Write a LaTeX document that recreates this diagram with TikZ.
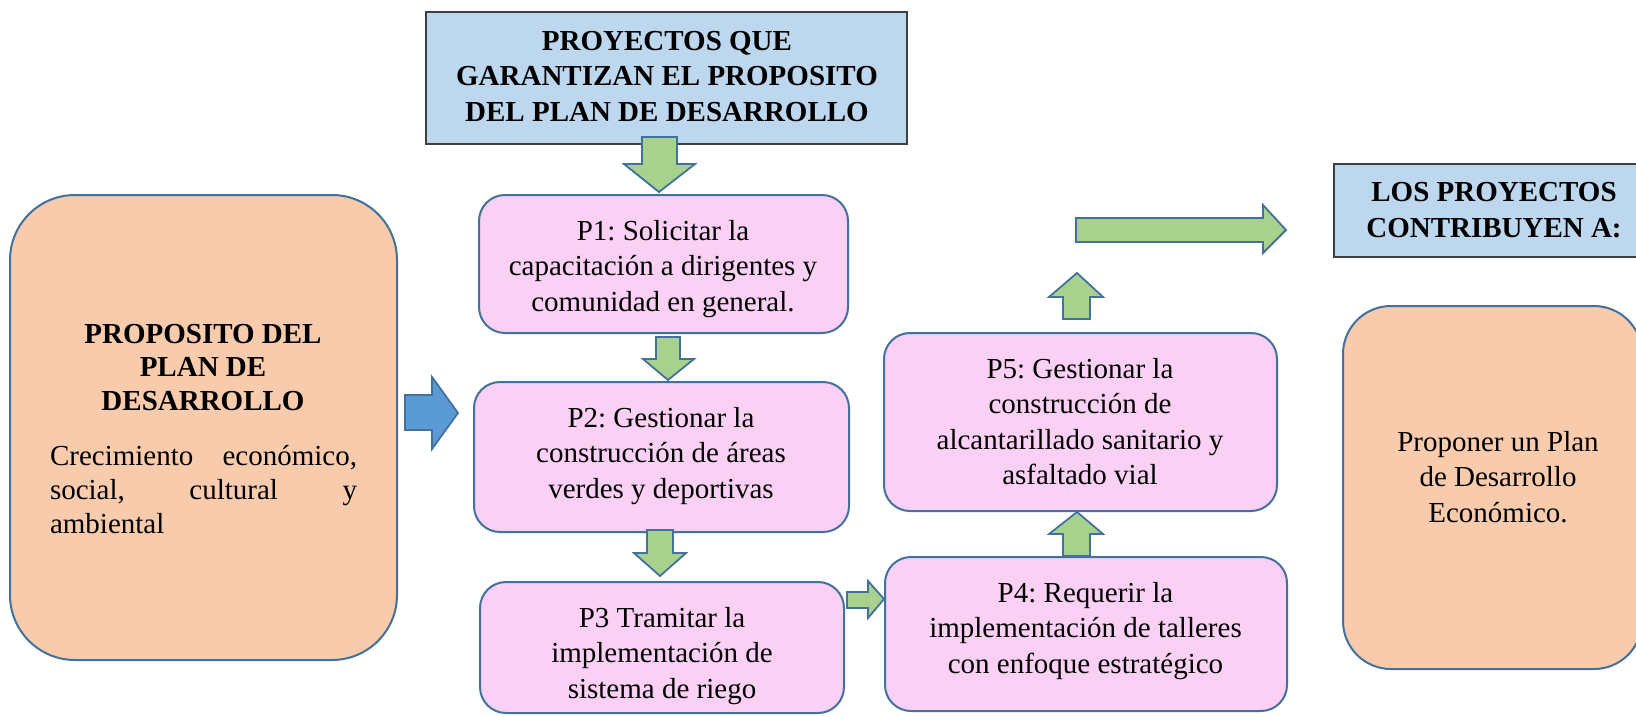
\documentclass[tikz,border=0pt]{standalone}
\usepackage{fontspec}
\setmainfont{Liberation Serif}
\frenchspacing
\definecolor{pinkfill}{HTML}{FAD0F4}
\definecolor{orangefill}{HTML}{F8CBAD}
\definecolor{bluefill}{HTML}{BDD7EE}
\definecolor{greenfill}{HTML}{A9D18E}
\definecolor{bluearrow}{HTML}{5B9BD5}
\definecolor{outl}{HTML}{41719C}
\definecolor{darkline}{HTML}{3F3F3F}
\begin{document}
\begin{tikzpicture}[x=1pt,y=-1pt,
  boxbase/.style={draw=outl, line width=2pt, inner sep=0pt, rectangle},
  pbox/.style={boxbase, fill=pinkfill, rounded corners=26pt},
  obox/.style={boxbase, fill=orangefill},
  hbox/.style={draw=darkline, line width=1.5pt, fill=bluefill, inner sep=0pt, rectangle},
  txt/.style={font=\fontsize{29}{35.5}\selectfont\frenchspacing, align=center, inner sep=0pt},
  btxt/.style={txt, font=\fontsize{29}{35.5}\selectfont\bfseries},
  garrow/.style={draw=outl, line width=1.8pt, fill=greenfill, line join=miter},
  barrow/.style={draw=outl, line width=1.8pt, fill=bluearrow, line join=miter}]
\clip (0,0) rectangle (1636,716);
\fill[white] (0,0) rectangle (1636,716);

% boxes
\node[hbox, minimum width=481pt, minimum height=132pt] (top) at (666.5,78) {};
\node[obox, rounded corners=65pt, minimum width=387pt, minimum height=465pt] (left) at (203.5,427.5) {};
\node[pbox, minimum width=369pt, minimum height=138pt] (p1) at (663.5,264) {};
\node[pbox, minimum width=375pt, minimum height=150pt] (p2) at (661.5,457) {};
\node[pbox, minimum width=364pt, minimum height=131pt] (p3) at (662,647.5) {};
\node[pbox, minimum width=402pt, minimum height=154pt] (p4) at (1086,634) {};
\node[pbox, minimum width=393pt, minimum height=178pt] (p5) at (1080.5,422) {};
\node[hbox, minimum width=308pt, minimum height=93pt] (tr) at (1488,210.5) {};
\node[obox, rounded corners=48pt, minimum width=299pt, minimum height=363pt] (ro) at (1492.5,487.5) {};

% texts
\node[btxt] (topt) at (667,78.4) {\strut PROYECTOS QUE\\ \strut GARANTIZAN EL PROPOSITO\\ \strut DEL PLAN DE DESARROLLO};
\node[txt] (p1t) at (663,268.4) {\strut P1: Solicitar la\\ \strut capacitación a dirigentes y\\ \strut comunidad en general.};
\node[txt] (p2t) at (661,455.4) {\strut P2: Gestionar la\\ \strut construcción de áreas\\ \strut verdes y deportivas};
\node[txt] (p3t) at (662,655.4) {\strut P3 Tramitar la\\ \strut implementación de\\ \strut sistema de riego};
\node[txt] (p5t) at (1080,424.2) {\strut P5: Gestionar la\\ \strut construcción de\\ \strut alcantarillado sanitario y\\ \strut asfaltado vial};
\node[txt] (p4t) at (1085.5,630.4) {\strut P4: Requerir la\\ \strut implementación de talleres\\ \strut con enfoque estratégico};
\node[btxt] (trt) at (1494,212.4) {\strut LOS PROYECTOS\\ \strut CONTRIBUYEN A:};
\node[txt] (rot) at (1498,479.4) {\strut Proponer un Plan\\ \strut de Desarrollo\\ \strut Económico.};
\node[btxt, font=\fontsize{29}{33.5}\selectfont\bfseries] (leftt) at (203,369.8) {\strut PROPOSITO DEL\\ \strut PLAN DE\\ \strut DESARROLLO};
\node[txt, font=\fontsize{29}{34}\selectfont, text width=307pt, align=left] (leftp) at (203.5,492.2) {\strut Crecimiento\hfill económico,\\ \strut social,\hfill cultural\hfill y\\ \strut ambiental};

% block arrows
\draw[garrow] (642,137) -- (677,137) -- (677,164) -- (695,164) -- (659,192) -- (624,164) -- (642,164) -- cycle;
\draw[garrow] (656,337) -- (680,337) -- (680,359) -- (694,359) -- (668,380) -- (643,359) -- (656,359) -- cycle;
\draw[garrow] (647,530) -- (673,530) -- (673,553) -- (686,553) -- (660,576) -- (634,553) -- (647,553) -- cycle;
\draw[garrow] (847,592) -- (868,592) -- (868,581) -- (884,599) -- (868,618) -- (868,608) -- (847,608) -- cycle;
\draw[garrow] (1063,556) -- (1063,534) -- (1049,534) -- (1077,512) -- (1103,534) -- (1090,534) -- (1090,556) -- cycle;
\draw[garrow] (1063,319) -- (1063,297) -- (1049,297) -- (1077,273) -- (1103,297) -- (1090,297) -- (1090,319) -- cycle;
\draw[garrow] (1076,218) -- (1263,218) -- (1263,205) -- (1286,230) -- (1263,253) -- (1263,242) -- (1076,242) -- cycle;
\draw[barrow] (405,395) -- (432,395) -- (432,377) -- (458,413) -- (432,449) -- (432,430) -- (405,430) -- cycle;
\end{tikzpicture}
\end{document}
